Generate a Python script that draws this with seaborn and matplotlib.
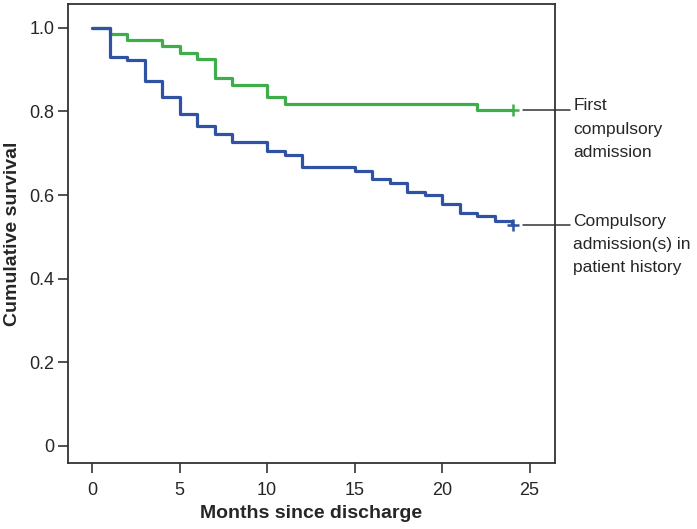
import matplotlib
matplotlib.use("Agg")
import matplotlib.pyplot as plt
import seaborn as sns
import pandas as pd

# Kaplan-Meier step values (months, survival)
first_months = [0, 1, 2, 4, 5, 6, 7, 8, 10, 11, 22, 24.07]
first_surv = [1.0, 0.986, 0.971, 0.957, 0.941, 0.925, 0.879, 0.864, 0.834, 0.819, 0.804, 0.804]

hist_months = [0, 1, 2, 3, 4, 5, 6, 7, 8, 10, 11, 12, 15, 16, 17, 18, 19, 20, 21, 22, 23, 24, 24.07]
hist_surv = [1.0, 0.931, 0.922, 0.874, 0.834, 0.794, 0.766, 0.746, 0.726, 0.706, 0.695, 0.668,
             0.658, 0.638, 0.628, 0.608, 0.599, 0.578, 0.557, 0.551, 0.538, 0.528, 0.528]

group_labels = ["First\ncompulsory\nadmission", "Compulsory\nadmission(s) in\npatient history"]
x_ticks = [0, 5, 10, 15, 20, 25]
y_ticks = [0, 0.2, 0.4, 0.6, 0.8, 1.0]
y_tick_labels = ["0", "0.2", "0.4", "0.6", "0.8", "1.0"]

green = "#3DAE49"
blue = "#2F52A4"

df = pd.concat([
    pd.DataFrame({"months": first_months, "surv": first_surv, "group": "first"}),
    pd.DataFrame({"months": hist_months, "surv": hist_surv, "group": "history"}),
])

sns.set_style("ticks")
plt.rcParams["font.family"] = ["Liberation Sans", "DejaVu Sans"]

fig = plt.figure(figsize=(6.97, 5.29), dpi=100)
ax = fig.add_axes([0.0976, 0.1248, 0.6988, 0.8676])

sns.lineplot(data=df, x="months", y="surv", hue="group", palette=[green, blue],
             drawstyle="steps-post", linewidth=2.3, legend=False, ax=ax, estimator=None)

# censor marks at end of follow-up
ax.plot(first_months[-1], first_surv[-1], marker="+", color=green, ms=8, mew=1.8)
ax.plot(hist_months[-1], hist_surv[-1], marker="+", color=blue, ms=8, mew=1.8)

ax.set_xlim(-1.37, 26.46)
ax.set_ylim(-0.041, 1.057)
ax.set_xticks(x_ticks)
ax.set_yticks(y_ticks)
ax.set_yticklabels(y_tick_labels)
ax.tick_params(labelsize=13, length=7, width=1.2, color="#333333", pad=3)
ax.tick_params(axis="x", pad=7)
for s in ax.spines.values():
    s.set_visible(True)
    s.set_linewidth(1.3)
    s.set_color("#333333")

ax.set_xlabel("Months since discharge", fontsize=14, fontweight="bold", labelpad=4)
ax.set_ylabel("Cumulative survival", fontsize=14, fontweight="bold")
ax.yaxis.set_label_coords(-0.097, 0.5)

# leader lines + group labels outside the plot
for val, lab in zip([first_surv[-1], hist_surv[-1]], group_labels):
    ax.plot([24.63, 27.3], [val, val], color="#333333", lw=1.1, clip_on=False)
    ax.text(27.5, val + 0.027, lab, fontsize=12.5, va="top", ha="left",
            linespacing=1.68, clip_on=False)

plt.savefig("out.png", dpi=100)
plt.close()
